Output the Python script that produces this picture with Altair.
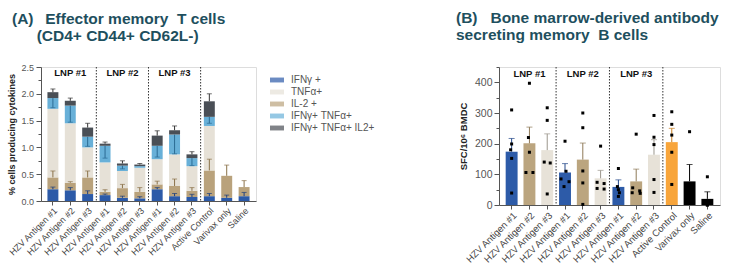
import altair as alt
import pandas as pd

FONT = "Liberation Sans"
TITLE_COLOR = "#1e4f5e"
NB = "\u00a0"
ZW = "\u200b"

# ---------------- shared categories ----------------
labels = ["HZV Antigen #1", "HZV Antigen #2", "HZV Antigen #3",
          "HZV Antigen #1", "HZV Antigen #2", "HZV Antigen #3",
          "HZV Antigen #1", "HZV Antigen #2", "HZV Antigen #3",
          "Active Control", "Varivax only", "Saline"]
keys = [f"{i:02d} {t}" for i, t in enumerate(labels)]
lnp_names = ["LNP #1", "LNP #2", "LNP #3"]
lnp_centre_idx = [1, 4, 7]
sep_after_idx = [2, 5, 8]

# ---------------- panel A data (cumulative tops of stacked segments) ----------------
seg_stack = ["IFNγ +", "IL-2 +", "TNFα+", "IFNγ+ TNFα+", "IFNγ+ TNFα+ IL2+"]
legend_order = ["IFNγ +", "TNFα+", "IL-2 +", "IFNγ+ TNFα+", "IFNγ+ TNFα+ IL2+"]
legend_colors = ["#2c5aa8", "#e6e1d7", "#b9a27c", "#68b0d8", "#4a4f56"]

top_ifng = [0.22, 0.20, 0.13, 0.11, 0.06, 0.05, 0.22, 0.09, 0.075, 0.09, 0.06, 0.09]
top_il2 = [0.44, 0.34, 0.44, 0.17, 0.24, 0.17, 0.31, 0.28, 0.19, 0.57, 0.47, 0.26]
top_tnf = [1.72, 1.45, 1.00, 0.72, 0.56, 0.62, 0.78, 0.87, 0.65, 1.40, 0.47, 0.26]
top_dbl = [1.92, 1.78, 1.20, 1.03, 0.66, 0.65, 1.03, 1.24, 0.80, 1.57, 0.47, 0.26]
top_tri = [2.03, 1.87, 1.37, 1.07, 0.70, 0.68, 1.22, 1.32, 0.87, 1.86, 0.47, 0.26]

cap_ifng = [0.26, 0.25, 0.19, 0.13, 0.09, 0.08, 0.25, 0.14, 0.125, 0.14, 0.11, 0.16]
cap_il2 = [0.56, 0.36, 0.56, 0.21, 0.31, 0.25, 0.37, 0.41, 0.25, 0.78, 0.67, 0.38]
low_dbl = [1.74, 1.47, 1.02, 0.80, 0.60, None, 0.82, 0.88, 0.66, 1.45, None, None]
cap_tri = [2.09, 1.92, 1.45, 1.10, 0.75, 0.70, 1.31, 1.40, 0.92, 2.00, None, None]

# ---------------- panel B data ----------------
b_means = [174, 201, 179, 106, 148, 87, 59, 77, 164, 205, 77, 20]
b_err_top = [217, 254, 232, 135, 202, 113, 82, 117, 213, 250, 132, 43]
b_points = [
    [310, 199, 180, 152, 39],
    [397, 220, 172, 106, 106],
    [317, 276, 140, 137, 36],
    [208, 110, 85, 76, 60],
    [300, 252, 111, 72, 2],
    [192, 74, 70, 54, 52],
    [119, 60, 50, 40, 28],
    [231, 56, 46, 40, 38],
    [292, 221, 197, 83, 41],
    [304, 263, 228, 172, 67],
    [239, 55, 40, 30, 20],
    [92, 6, 2, 0, 0],
]
b_jitter = [
    [0, 0, -1, 0, 0],
    [0, -1, 0, -3.5, 3.5],
    [0, 0, -3, 3, 0],
    [0, 1, -4, 4, -1],
    [0, 0, 0, 0, 0],
    [0, -3.5, 3.5, -3.5, 3.5],
    [0, -1, 0, 1, 0],
    [0, -3.5, 3.5, -4, 4],
    [0, 0, 0, 0, 0],
    [0, 0, 0, 0, 0],
    [0, 0, 0, 0, 0],
    [0, 0, 0, 0, 0],
]
b_fill = ["#2d5ba8", "#bba57f", "#e7e2d8"] * 3 + ["#f8a53b", "#000000", "#000000"]
b_errc = ["#24498a", "#8f7a58", "#9b968c"] * 3 + ["#c77e20", "#000000", "#000000"]

# ---------------- build tables ----------------
tops = [top_ifng, top_il2, top_tnf, top_dbl, top_tri]
a_rows = []
for i, k in enumerate(keys):
    prev = 0.0
    for s, name in enumerate(seg_stack):
        hi = tops[s][i]
        if hi - prev > 1e-9:
            a_rows.append({"key": k, "seg": name, "lo": prev, "hi": hi})
        prev = hi
a_df = pd.DataFrame(a_rows)

err_rows = []
for i, k in enumerate(keys):
    specs = [
        (top_ifng[i], cap_ifng[i], "#1d3f7c"),
        (top_il2[i], cap_il2[i], "#8a7148"),
        (top_dbl[i], low_dbl[i], "#2b6b94"),
        (top_tri[i], cap_tri[i], "#333333"),
    ]
    for start, end, col in specs:
        if end is None:
            continue
        err_rows.append({"key": k, "y0": start, "y1": end, "col": col})
a_err = pd.DataFrame(err_rows)

lnp_df = pd.DataFrame({"key": [keys[j] for j in lnp_centre_idx], "txt": lnp_names})
sep_df = pd.DataFrame({"key": [keys[j] for j in sep_after_idx]})

b_df = pd.DataFrame({"key": keys, "mean": b_means, "err": b_err_top,
                     "fill": b_fill, "errc": b_errc})
pt_rows = []
for i, k in enumerate(keys):
    for v, j in zip(b_points[i], b_jitter[i]):
        pt_rows.append({"key": k, "v": v, "jit": j})
b_pts = pd.DataFrame(pt_rows)


# ---------------- common axis pieces ----------------
def x_axis(fs):
    return alt.Axis(title=None, labelAngle=-45, labelAlign="right", labelBaseline="top",
                    labelFontSize=fs, labelColor="#444444", tickSize=4, tickColor="#555555",
                    domainColor="#555555", labelPadding=1, labelOverlap=False,
                    labelExpr="slice(datum.value, 3)")


# ---------------- panel A ----------------
W_A, H_A = 215, 134
xa = alt.X("key:N", sort=keys, axis=x_axis(9),
           scale=alt.Scale(paddingInner=0.37, paddingOuter=0.37))
xa2 = alt.X("key:N", sort=keys)

ya_vals = [i * 0.25 for i in range(11)]
ya_axis = alt.Axis(title="% cells producing cytokines", values=ya_vals,
                   labelExpr="(round(datum.value*100) % 50 == 0) ? format(datum.value, '.1f') : ''",
                   tickSize={"condition": {"test": "round(datum.value*100) % 50 == 0", "value": 5}, "value": 3},
                   labelFontSize=9, labelColor="#555555", tickColor="#555555",
                   domainColor="#555555", titleFontSize=9, titleFontWeight="bold",
                   titleColor="#222222", titleX=-30, titleY=H_A / 2,
                   titleAngle=270, titleAlign="center", titleBaseline="middle",
                   labelPadding=2.5, labelOverlap=False, grid=False)
ya_scale = alt.Scale(domain=[0, 2.5], nice=False)

bars_a = alt.Chart(a_df).mark_bar().encode(
    x=xa, y=alt.Y("lo:Q", scale=ya_scale, axis=ya_axis), y2="hi:Q",
    color=alt.Color("seg:N", scale=alt.Scale(domain=legend_order, range=legend_colors),
                    legend=alt.Legend(orient="none", legendX=229, legendY=6, title=None,
                                      symbolType="M-1,-0.35H1V0.35H-1Z", symbolSize=196,
                                      symbolStrokeWidth=0, labelFontSize=10,
                                      labelColor="#555555", labelOffset=7, rowPadding=0,
                                      padding=0, labelLimit=200)),
)
err_a = alt.Chart(a_err).mark_rule(strokeWidth=1).encode(
    x=xa2, y=alt.Y("y0:Q", axis=ya_axis), y2="y1:Q", color=alt.Color("col:N", scale=None))
cap_a = alt.Chart(a_err).mark_tick(thickness=1, size=5).encode(
    x=xa2, y=alt.Y("y1:Q", axis=ya_axis), color=alt.Color("col:N", scale=None))
sep_a = alt.Chart(sep_df).mark_rule(strokeDash=[1.5, 1.5], color="#333333", strokeWidth=1,
                                    xOffset=3.2).encode(
    x=alt.X("key:N", sort=keys, bandPosition=1), y=alt.value(0), y2=alt.value(H_A))
lnp_a = alt.Chart(lnp_df).mark_text(fontWeight="bold", fontSize=9.5, color="#111111",
                                    baseline="middle").encode(
    x=xa2, y=alt.value(6), text="txt:N")

left = alt.layer(bars_a, err_a, cap_a, sep_a, lnp_a).properties(
    width=W_A, height=H_A,
    title=alt.TitleParams(
        text=[f"(A){NB}{NB}\u2009Effector memory{NB}{NB}T cells",
              f"{ZW}{NB*5}\u2009(CD4+ CD44+ CD62L-)"],
        anchor="start", frame="bounds", fontSize=15.5, lineHeight=17, color=TITLE_COLOR,
        font=FONT, fontWeight="bold", offset=19, dx=5))

# ---------------- panel B ----------------
W_B, H_B = 221, 138
xb = alt.X("key:N", sort=keys, axis=x_axis(9.5),
           scale=alt.Scale(paddingInner=0.33, paddingOuter=0.375))
xb2 = alt.X("key:N", sort=keys)
yb_axis = alt.Axis(title="SFC/10⁶ BMDC", values=list(range(0, 451, 50)),
                   labelExpr="(datum.value % 100 == 0) ? format(datum.value, 'd') : ''",
                   tickSize={"condition": {"test": "datum.value % 100 == 0", "value": 5}, "value": 3},
                   labelFontSize=10.5, labelColor="#555555", tickColor="#555555",
                   domainColor="#555555", titleFontSize=9.5, titleFontWeight="bold",
                   titleColor="#222222", titleX=-36, titleY=H_B / 2,
                   titleAngle=270, titleAlign="center", titleBaseline="middle",
                   labelPadding=2, labelOverlap=False, grid=False)
yb_scale = alt.Scale(domain=[0, 450], nice=False)

bars_b = alt.Chart(b_df).mark_bar().encode(
    x=xb, y=alt.Y("mean:Q", scale=yb_scale, axis=yb_axis),
    color=alt.Color("fill:N", scale=None))
err_b = alt.Chart(b_df).mark_rule(strokeWidth=1).encode(
    x=xb2, y=alt.Y("mean:Q", axis=yb_axis), y2="err:Q", color=alt.Color("errc:N", scale=None))
cap_b = alt.Chart(b_df).mark_tick(thickness=1, size=6).encode(
    x=xb2, y=alt.Y("err:Q", axis=yb_axis), color=alt.Color("errc:N", scale=None))

pt_layers = []
for jv in sorted(set(b_pts["jit"].tolist())):
    pt_layers.append(
        alt.Chart(b_pts).transform_filter(f"datum.jit == {jv}")
        .mark_square(size=9, color="#000000", opacity=1, xOffset=jv)
        .encode(x=xb2, y=alt.Y("v:Q", axis=yb_axis)))

sep_b = alt.Chart(sep_df).mark_rule(strokeDash=[1.5, 1.5], color="#333333", strokeWidth=1,
                                    xOffset=2.9).encode(
    x=alt.X("key:N", sort=keys, bandPosition=1), y=alt.value(0), y2=alt.value(H_B))
lnp_b = alt.Chart(lnp_df).mark_text(fontWeight="bold", fontSize=9.5, color="#111111",
                                    baseline="middle").encode(
    x=xb2, y=alt.value(6.5), text="txt:N")

right = alt.layer(bars_b, err_b, cap_b, *pt_layers, sep_b, lnp_b).properties(
    width=W_B, height=H_B,
    title=alt.TitleParams(
        text=[f"(B){NB}{NB}{NB}Bone marrow-derived antibody",
              "secreting memory\u00a0\u00a0B cells"],
        anchor="start", frame="bounds", fontSize=15.5, lineHeight=17, color=TITLE_COLOR,
        font=FONT, fontWeight="bold", offset=19, dx=-2))

chart = alt.hconcat(left, right, spacing=198).properties(
    padding={"left": 6, "top": 10, "right": 5, "bottom": 5}
).configure_view(stroke=None).configure(font=FONT).configure_axis(labelOverlap=False)

chart.save("out.html", embed_options={"renderer": "svg", "actions": False})
